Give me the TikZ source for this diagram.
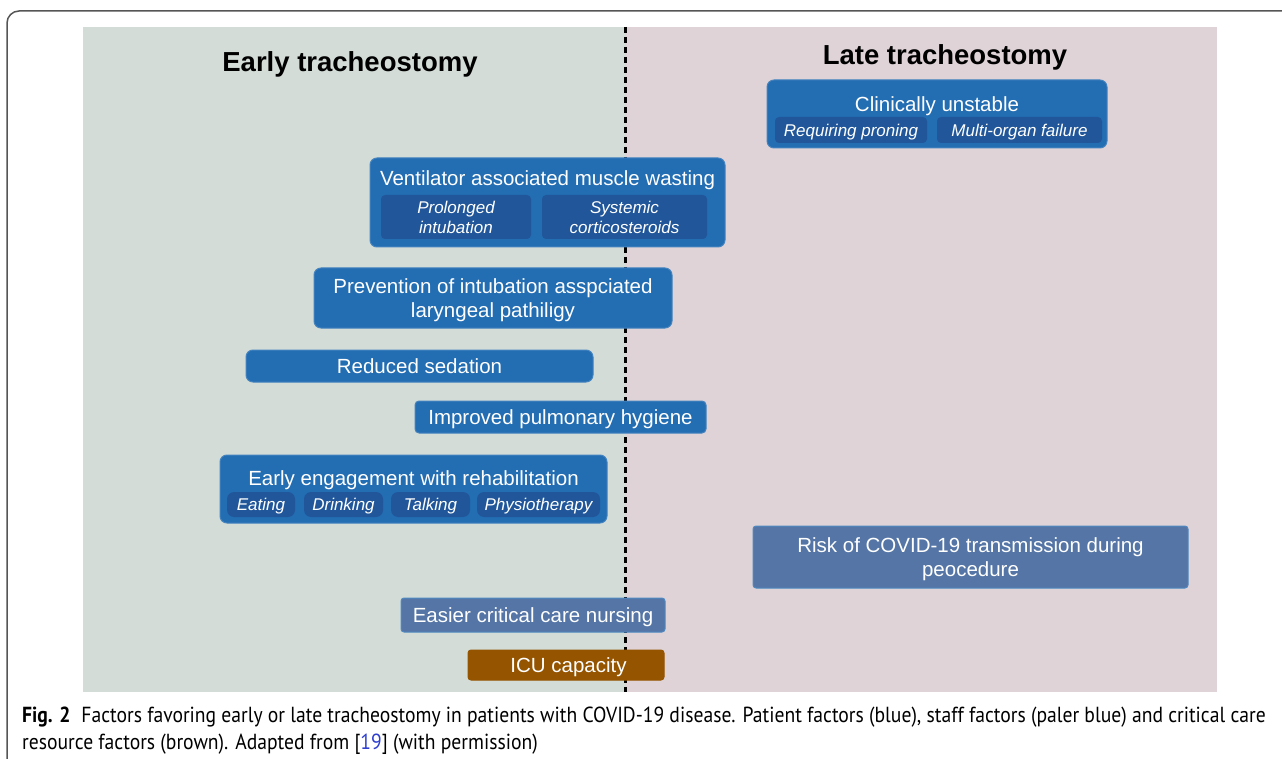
\documentclass[tikz,border=0pt]{standalone}
\usepackage{fontspec}
\setmainfont{Liberation Sans}
\newfontfamily\capfont[FakeStretch=0.9]{PT Sans}
\usetikzlibrary{positioning,calc}
\definecolor{earlybg}{HTML}{D3DCD7}
\definecolor{latebg}{HTML}{DFD3D7}
\definecolor{patient}{HTML}{236DB3}
\definecolor{patientsub}{HTML}{21579A}
\definecolor{staff}{HTML}{5475A5}
\definecolor{resource}{HTML}{955400}
\definecolor{framegray}{HTML}{555555}
\definecolor{citeblue}{HTML}{2F3FD0}

\begin{document}
\begin{tikzpicture}[
        x=1pt,y=-1pt,
        font=\fontsize{20.5}{24}\selectfont,
        text depth=0pt,
        factor/.style={rectangle,rounded corners=7pt,fill=patient,draw=patient!85!white,line width=1pt,text=white,align=center,inner sep=0pt},
        staffbox/.style={factor,fill=staff,draw=patient!80!white,rounded corners=3pt},
        resourcebox/.style={factor,fill=resource,draw=resource,rounded corners=3pt},
        sub/.style={rectangle,rounded corners=4pt,fill=patientsub,text=white,align=center,inner sep=0pt,font=\fontsize{17}{20}\selectfont\itshape},
        headline/.style={font=\fontsize{27.5}{32}\selectfont\bfseries}
    ]
        \useasboundingbox (0,0) rectangle (1282,759);
        % panels
        \fill[earlybg] (83,27) rectangle (625,692);
        \fill[latebg] (625,27) rectangle (1217,692);
        \draw[framegray,line width=1.5pt,rounded corners=12pt] (1283,11) -- (7,11) -- (7,760);
        \coordinate (divtop) at (625,27);
        \coordinate (divbot) at (625,692);
        \draw[line width=3pt,dash pattern=on 6pt off 4pt] (divtop) -- (divbot);

        \node[headline] (early) at (350,62) {Early tracheostomy};
        \node[headline] (late) at (945,55) {Late tracheostomy};

        % patient factors
        \node[factor,minimum width=340,minimum height=68] (unstable) at (937,114) {};
        \node[text=white] (unstabletitle) at (937,104) {Clinically unstable};
        \node[sub,minimum width=152,minimum height=26] (proning) at (851,130) {Requiring proning};
        \node[sub,minimum width=165,minimum height=26] (organ) at (1019.5,130) {Multi-organ failure};

        \node[factor,minimum width=355,minimum height=89] (wasting) at (547.5,202.5) {};
        \node[text=white] (wastingtitle) at (547.5,178) {Ventilator associated muscle wasting};
        \node[sub,minimum width=150,minimum height=44] (intubation) at (456,217) {Prolonged\\intubation};
        \node[sub,minimum width=165,minimum height=44] (steroids) at (624.5,217) {Systemic\\corticosteroids};

        \node[factor,minimum width=358,minimum height=60] (laryngeal) at (493,298) {Prevention of intubation asspciated\\laryngeal pathiligy};
        \node[factor,minimum width=347,minimum height=32] (sedation) at (419.5,366) {Reduced sedation};
        \node[factor,minimum width=291,minimum height=32,rounded corners=4pt] (hygiene) at (560.5,417) {Improved pulmonary hygiene};

        \node[factor,minimum width=387,minimum height=68] (rehab) at (413.5,489) {};
        \node[text=white] (rehabtitle) at (413.5,478) {Early engagement with rehabilitation};
        \node[sub,rounded corners=7pt,minimum width=68,minimum height=25] (eating) at (261,504.5) {Eating};
        \node[sub,rounded corners=7pt,minimum width=79,minimum height=25] (drinking) at (343.5,504.5) {Drinking};
        \node[sub,rounded corners=7pt,minimum width=79,minimum height=25] (talking) at (430.5,504.5) {Talking};
        \node[sub,rounded corners=7pt,minimum width=123,minimum height=25] (physio) at (538.5,504.5) {Physiotherapy};

        % staff factors
        \node[staffbox,minimum width=435,minimum height=62] (risk) at (970.5,557) {Risk of COVID-19 transmission during\\peocedure};
        \node[staffbox,minimum width=264,minimum height=34] (nursing) at (533,615) {Easier critical care nursing};

        % resource factors
        \node[resourcebox,minimum width=196,minimum height=30] (icu) at (566,665) {\hspace{5pt}ICU capacity};

        % caption
        \node[anchor=base west,align=left,inner sep=0pt,font=\capfont\fontsize{21.8}{27}\selectfont] (caption) at (22,749)
            {\textbf{Fig. 2}\enspace Factors favoring early or late tracheostomy in patients with COVID-19 disease. Patient factors (blue), staff factors (paler blue) and critical care\\resource factors (brown). Adapted from [{\color{citeblue}19}] (with permission)};
    \end{tikzpicture}
\end{document}
